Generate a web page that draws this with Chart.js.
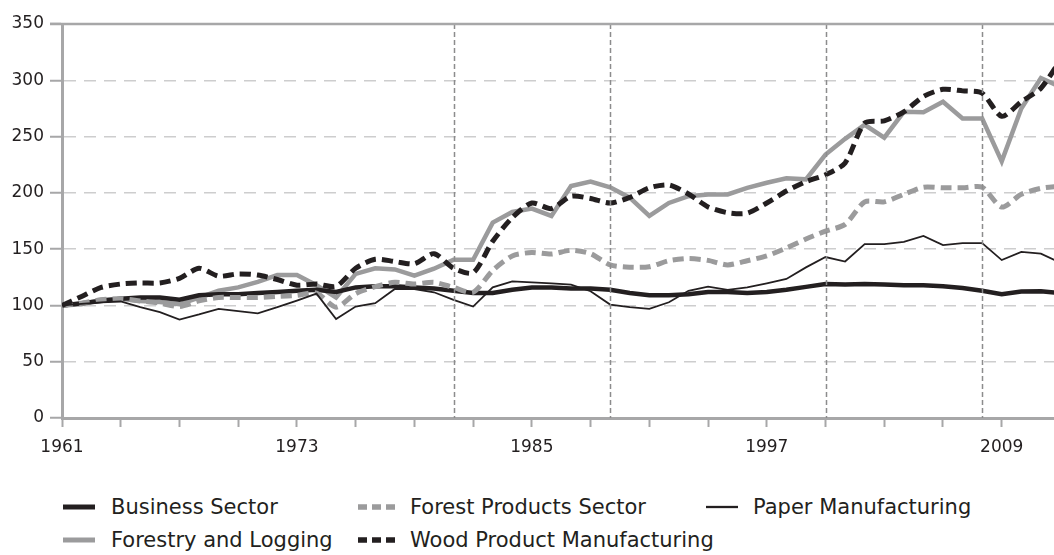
<!DOCTYPE html>
<html>
<head>
<meta charset="utf-8">
<script src="https://cdn.jsdelivr.net/npm/chart.js@4/dist/chart.umd.min.js"></script>
<style>
  body { margin: 0; background: #fff; }
  #wrap { position: relative; width: 1054px; height: 555px; overflow: hidden; }
  #chart-box { position: absolute; left: 0; top: 0; width: 1054px; height: 470px; }
  .leg { position: absolute; font-family: "DejaVu Sans", sans-serif; font-size: 21px; color: #231f20; white-space: nowrap; line-height: 24px; }
  .leg svg { position: absolute; top: 0; }
</style>
</head>
<body>
<div id="wrap">
  <div id="chart-box"><canvas id="chart"></canvas></div>
  <div id="legend"></div>
</div>
<script>
var years = [];
for (var yr = 1961; yr <= 2012; yr++) years.push(yr);

var businessSector = [100, 102, 104, 106, 107, 107, 105, 109, 110, 110, 111, 112, 113, 114, 112, 116, 117, 117, 116, 115,
  113, 111, 111, 114, 116, 116, 115, 115, 114, 111, 109, 109, 110, 112, 112, 111, 112, 114, 116.5, 119,
  118.5, 119, 118.5, 118, 118, 117, 115.5, 113, 110, 112.3, 112.5, 111];
var forestryLogging = [100, 101, 105, 106, 104, 103, 101, 107, 113, 116, 121, 127, 127, 118, 107, 128, 133, 132, 126.4, 132.6,
  140.6, 140.6, 173.6, 183, 186, 179.5, 206, 210, 205, 195.7, 179.5, 191, 197, 198.6, 198.6, 204.5, 209, 213, 212, 234,
  248, 260.5, 249, 272, 271.7, 281, 266, 266, 228, 275, 302, 294];
var forestProducts = [100, 102, 105, 106, 104, 102, 99, 104, 107, 107, 107, 108, 109, 111, 98.4, 110.5, 116.7, 120.5, 119, 120.5,
  116, 111.7, 131, 144, 147, 145.6, 149, 146, 136, 134, 134.4, 139.7, 141.7, 140, 136, 139.7, 144, 151, 159, 166,
  172, 192, 192, 198.7, 205, 204.5, 204.5, 205, 187.4, 198.7, 204, 206];
var paperManufacturing = [100, 101.4, 102.8, 103.5, 98.4, 94, 87.5, 92, 97, 95, 93, 98.5, 104.3, 110.5, 88, 99, 102, 114.6, 114.6, 111.7,
  105, 99, 116, 121.4, 120.5, 119.6, 118.5, 112.6, 100.8, 98.4, 97, 102.8, 113, 116.7, 113.8, 116, 119.6, 123.5, 133.8, 143,
  139, 154.4, 154.4, 156.5, 161.8, 153.6, 155.3, 155.3, 140.3, 147.6, 146, 138];
var woodProducts = [100, 108, 116, 119, 120, 120, 124, 133, 126, 128, 127, 123, 118, 119, 117, 133, 141, 139, 137, 146,
  133, 129, 157, 178, 191, 186, 197, 195, 191, 196, 204.5, 207, 199, 187.5, 182.4, 182, 191, 201.6, 210, 216,
  226.6, 262, 264, 272, 285.6, 292, 290.6, 288.5, 268, 281, 293, 318];

var yTicks = [0, 50, 100, 150, 200, 250, 300, 350];
var xLabelYears = [1961, 1973, 1985, 1997, 2009];
var cycleYears = [1981, 1989, 2000, 2008];

var black = '#231f20';
var gray = '#9b9b9c';
var axisGray = '#a7a7a8';

function points(arr) {
  return years.map(function(y, i) { return { x: y, y: arr[i] }; });
}

var series = [
  { label: 'Business Sector', data: businessSector, color: black, width: 4.5, dash: [], order: 3 },
  { label: 'Forestry and Logging', data: forestryLogging, color: gray, width: 4.5, dash: [], order: 4 },
  { label: 'Forest Products Sector', data: forestProducts, color: gray, width: 5, dash: [11, 6], order: 2 },
  { label: 'Paper Manufacturing', data: paperManufacturing, color: black, width: 1.8, dash: [], order: 1 },
  { label: 'Wood Product Manufacturing', data: woodProducts, color: black, width: 5, dash: [11, 6], order: 0 }
];

var datasets = series.map(function(s) {
  return {
    label: s.label,
    data: points(s.data),
    borderColor: s.color,
    borderWidth: s.width,
    borderDash: s.dash,
    pointRadius: 0,
    tension: s.dash.length ? 0.25 : 0,
    fill: false,
    order: s.order
  };
});

var extraLines = {
  id: 'extraLines',
  afterDatasetsDraw: function(chart) {
    var ctx = chart.ctx;
    var area = chart.chartArea;
    var xs = chart.scales.x;
    ctx.save();
    ctx.strokeStyle = '#8c8c8d';
    ctx.lineWidth = 1.5;
    ctx.setLineDash([5, 3]);
    cycleYears.forEach(function(y) {
      var px = Math.round(xs.getPixelForValue(y)) + 0.5;
      ctx.beginPath();
      ctx.moveTo(px, area.top);
      ctx.lineTo(px, area.bottom);
      ctx.stroke();
    });
    ctx.setLineDash([]);
    ctx.strokeStyle = axisGray;
    ctx.lineWidth = 2.5;
    ctx.beginPath();
    ctx.moveTo(area.left - 12, area.top);
    ctx.lineTo(area.right, area.top);
    ctx.stroke();
    ctx.restore();
  }
};

var chart = new Chart(document.getElementById('chart'), {
  type: 'line',
  data: { datasets: datasets },
  plugins: [extraLines],
  options: {
    responsive: true,
    maintainAspectRatio: false,
    animation: false,
    layout: { padding: { top: 24, right: 0, left: 0, bottom: 0 } },
    plugins: { legend: { display: false }, tooltip: { enabled: false } },
    scales: {
      x: {
        type: 'linear',
        min: 1961,
        max: 2011.67,
        afterFit: function(scale) { scale.height = 52; },
        afterBuildTicks: function(scale) {
          var t = [];
          for (var v = 1961; v <= 2011; v += 3) t.push({ value: v });
          scale.ticks = t;
        },
        ticks: {
          autoSkip: false,
          maxRotation: 0,
          padding: 10,
          color: black,
          font: { family: 'DejaVu Sans', size: 17 },
          callback: function(v) { return xLabelYears.indexOf(v) >= 0 ? String(v) : ''; }
        },
        grid: { drawOnChartArea: false, drawTicks: true, tickLength: 9, tickColor: axisGray, tickWidth: 2 },
        border: { display: true, color: axisGray, width: 3 }
      },
      y: {
        min: 0,
        max: 350,
        afterFit: function(scale) { scale.width = 62; },
        afterBuildTicks: function(scale) {
          scale.ticks = yTicks.map(function(v) { return { value: v }; });
        },
        ticks: {
          padding: 6,
          color: black,
          font: { family: 'DejaVu Sans', size: 17 }
        },
        grid: {
          color: function(c) { return (c.tick && (c.tick.value === 0 || c.tick.value === 350)) ? 'rgba(0,0,0,0)' : '#cdcdce'; },
          lineWidth: 1.5,
          tickColor: axisGray,
          tickWidth: 2,
          tickLength: 12,
          tickBorderDash: [],
          drawTicks: true
        },
        border: { display: true, color: axisGray, width: 3, dash: [12, 8] }
      }
    }
  }
});

// legend built as html
var legendItems = [
  { s: 0, x: 63, y: 495, sw: 32, text: 111 },
  { s: 2, x: 358, y: 495, sw: 40, text: 410 },
  { s: 3, x: 706, y: 495, sw: 32, text: 753 },
  { s: 1, x: 63, y: 528, sw: 32, text: 111 },
  { s: 4, x: 358, y: 528, sw: 40, text: 410 }
];
var legend = document.getElementById('legend');
legendItems.forEach(function(item) {
  var s = series[item.s];
  var sym = document.createElement('div');
  sym.className = 'leg';
  sym.style.left = item.x + 'px';
  sym.style.top = item.y + 'px';
  sym.innerHTML = '<svg width="' + item.sw + '" height="24" style="left:0"><line x1="0" y1="12" x2="' + item.sw +
    '" y2="12" stroke="' + s.color + '" stroke-width="' + (s.width + 0.5) + '"' +
    (s.dash.length ? ' stroke-dasharray="9,5"' : '') + '/></svg>';
  legend.appendChild(sym);
  var txt = document.createElement('div');
  txt.className = 'leg';
  txt.style.left = item.text + 'px';
  txt.style.top = item.y + 'px';
  txt.textContent = s.label;
  legend.appendChild(txt);
});
</script>
</body>
</html>
